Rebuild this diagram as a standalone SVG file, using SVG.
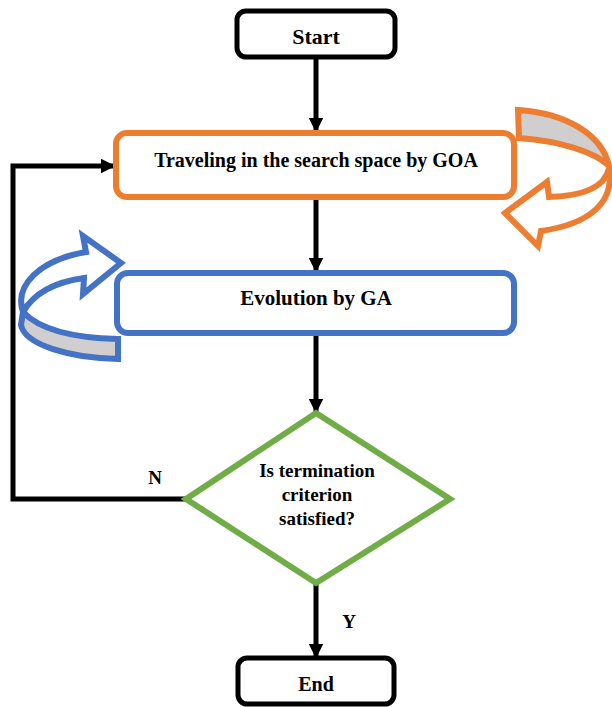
<svg xmlns="http://www.w3.org/2000/svg" width="612" height="707" viewBox="0 0 612 707">
  <style>
    .lbl { font-family: "Liberation Serif", "Times New Roman", serif; font-weight: bold; fill: #000; text-anchor: middle; }
    .term { fill: #fff; stroke: #000; stroke-width: 5; }
    .orange { fill: #fff; stroke: #ED7D31; stroke-width: 6; }
    .blue { fill: #fff; stroke: #4472C4; stroke-width: 6; }
    .green { fill: #fff; stroke: #70AD47; stroke-width: 6; }
    .wire { fill: none; stroke: #000; stroke-width: 5; }
    .band-o { fill: #D0CECE; stroke: #ED7D31; stroke-width: 6; stroke-linejoin: miter; }
    .band-b { fill: #D0CECE; stroke: #4472C4; stroke-width: 6; stroke-linejoin: miter; }
    .ribbon-o { fill: #fff; stroke: #ED7D31; stroke-width: 6; stroke-linejoin: miter; }
    .ribbon-b { fill: #fff; stroke: #4472C4; stroke-width: 6; stroke-linejoin: miter; }
  </style>
  <defs>
    <marker id="head" viewBox="0 0 10 10" refX="9" refY="5" markerWidth="3" markerHeight="3" orient="auto" markerUnits="strokeWidth">
      <path d="M0,0 L10,5 L0,10 Z" fill="#000"/>
    </marker>
  </defs>

  <rect width="612" height="707" fill="#fff"/>

  <!-- connectors -->
  <g id="connectors">
    <line class="wire" x1="316" y1="57" x2="316" y2="131" marker-end="url(#head)"/>
    <line class="wire" x1="316" y1="197" x2="316" y2="271" marker-end="url(#head)"/>
    <line class="wire" x1="316" y1="333" x2="316" y2="412" marker-end="url(#head)"/>
    <line class="wire" x1="316" y1="583" x2="316" y2="657" marker-end="url(#head)"/>
    <polyline class="wire" points="186,499 13,499 13,166 114,166" marker-end="url(#head)"/>
    <text class="lbl" x="155" y="484" font-size="19">N</text>
    <text class="lbl" x="349" y="628" font-size="19">Y</text>
  </g>

  <!-- start -->
  <g id="start">
    <rect class="term" x="237" y="11" width="158" height="46" rx="9"/>
    <text class="lbl" x="316" y="44" font-size="22">Start</text>
  </g>

  <!-- GOA loop arrow -->
  <g id="goa-loop">
    <path class="band-o" d="M518,110 C565,113 602,134 609,166 C595,152 560,141 519,138 Z"/>
    <path class="ribbon-o" d="M609,168 C615,202 590,224 541,231 L538,246 L505,213 L547,182 L549,197 C582,196 605,188 609,168 Z"/>
  </g>

  <!-- GOA step -->
  <g id="goa">
    <rect class="orange" x="116" y="133" width="398" height="64" rx="11"/>
    <text class="lbl" x="316" y="167" font-size="20">Traveling in the search space by GOA</text>
  </g>

  <!-- GA loop arrow -->
  <g id="ga-loop">
    <path class="band-b" d="M23,312 C40,330 75,338 118,339 L118,359 C70,358 25,345 21,325 Z"/>
    <path class="ribbon-b" d="M23,312 C14,285 40,260 86,252 L83,236 L121,263 L83,294 L84,278 C55,282 34,293 23,312 Z"/>
  </g>

  <!-- GA step -->
  <g id="ga">
    <rect class="blue" x="117" y="273" width="397" height="60" rx="11"/>
    <text class="lbl" x="316" y="305" font-size="21">Evolution by GA</text>
  </g>

  <!-- decision -->
  <g id="decision">
    <polygon class="green" points="316,413 450,499 316,583 186,499"/>
    <text class="lbl" x="317" y="477" font-size="19">Is termination</text>
    <text class="lbl" x="317" y="501" font-size="19">criterion</text>
    <text class="lbl" x="317" y="525" font-size="19">satisfied?</text>
  </g>

  <!-- end -->
  <g id="end">
    <rect class="term" x="238" y="658" width="156" height="46" rx="9"/>
    <text class="lbl" x="316" y="691" font-size="20">End</text>
  </g>
</svg>
